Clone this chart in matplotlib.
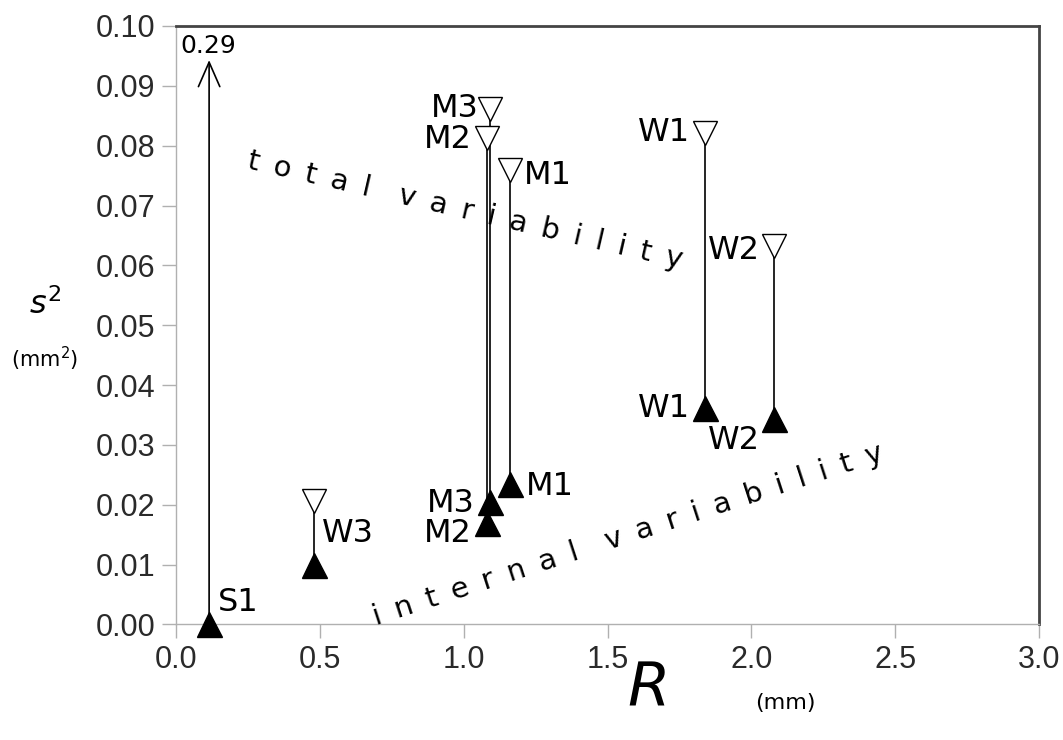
import matplotlib.pyplot as plt

# sample names, radius R (mm) and variances s^2 (mm^2)
names = ["S1", "W3", "M2", "M3", "M1", "W1", "W2"]
R = [0.115, 0.48, 1.080, 1.092, 1.162, 1.840, 2.080]
s2_internal = [0.0, 0.0099, 0.0170, 0.0204, 0.0235, 0.0361, 0.0343]
s2_total = [0.29, 0.0206, 0.0813, 0.0862, 0.0760, 0.0822, 0.0632]

x_ticks = [0.0, 0.5, 1.0, 1.5, 2.0, 2.5, 3.0]
y_ticks = [0.00, 0.01, 0.02, 0.03, 0.04, 0.05, 0.06, 0.07, 0.08, 0.09, 0.10]

# label offsets (points) and alignment for filled / open markers
off_int = {
    "S1": (6, 16, "left"), "M2": (-11, -8, "right"),
    "M3": (-11, -1, "right"), "M1": (11, -2, "left"), "W1": (-11, 0, "right"),
    "W2": (-10, -15, "right"),
}
off_tot = {
    "M2": (-11, -1, "right"), "M3": (-8, 0, "right"),
    "M1": (10, -4, "left"), "W1": (-11, 0, "right"), "W2": (-10, -3, "right"),
}


def spaced(s):
    # wide letter spacing, as in the original annotations
    sp = "\u2002"
    return sp.join(s).replace(sp + " " + sp, sp * 2)


fig = plt.figure(figsize=(10.63, 7.40), dpi=100)
ax = fig.add_axes([0.1656, 0.1561, 0.8118, 0.8088])

ymax = 0.10
for i, n in enumerate(names):
    if s2_total[i] > ymax:
        # off-scale value: arrow to the top with the value written above
        ax.annotate("", xy=(R[i], 0.0943), xytext=(R[i], s2_internal[i]),
                    arrowprops=dict(arrowstyle="->,head_length=0.8,head_width=0.35",
                                    lw=1.2, color="black", mutation_scale=22,
                                    shrinkA=0, shrinkB=0))
        ax.text(R[i] - 0.10, 0.0967, f"{s2_total[i]:.2f}", ha="left",
                va="center", fontsize=18, family="DejaVu Sans")
    else:
        ax.plot([R[i], R[i]], [s2_internal[i], s2_total[i]], color="black",
                lw=1.2, zorder=2)
        ax.plot(R[i], s2_total[i], marker="v", ms=17, mfc="white",
                mec="black", mew=1.0, ls="none", zorder=3)
    ax.plot(R[i], s2_internal[i], marker="^", ms=18, color="black",
            ls="none", zorder=4, clip_on=False)

for i, n in enumerate(names):
    if n in off_int:
        dx, dy, ha = off_int[n]
        ax.annotate(n, (R[i], s2_internal[i]), xytext=(dx, dy),
                    textcoords="offset points", ha=ha, va="center",
                    fontsize=23, family="DejaVu Sans")
    if n in off_tot:
        dx, dy, ha = off_tot[n]
        ax.annotate(n, (R[i], s2_total[i]), xytext=(dx, dy),
                    textcoords="offset points", ha=ha, va="center",
                    fontsize=23, family="DejaVu Sans")
# W3 name sits between its two markers
ax.annotate("W3", (R[1], (s2_internal[1] + s2_total[1]) / 2),
            xytext=(6, 0), textcoords="offset points", ha="left",
            va="center", fontsize=23, family="DejaVu Sans")

ax.text(1.006, 0.0691, spaced("total variability"), rotation=-13,
        ha="center", va="center", fontsize=21, family="DejaVu Sans",
        rotation_mode="anchor")
ax.text(1.573, 0.0149, spaced("internal variability"), rotation=18,
        ha="center", va="center", fontsize=21, family="DejaVu Sans",
        rotation_mode="anchor")

ax.set_xlim(0, 3.0)
ax.set_ylim(0, ymax)
ax.set_xticks(x_ticks)
ax.set_xticklabels([f"{v:.1f}" for v in x_ticks])
ax.set_yticks(y_ticks)
ax.set_yticklabels([f"{v:.2f}" for v in y_ticks])
ax.tick_params(direction="out", length=10, width=1, color="#b0b0b0",
               labelsize=22, labelcolor="#2a2a2a", pad=5)
for lab in ax.get_xticklabels() + ax.get_yticklabels():
    lab.set_family("Liberation Sans")
for side in ["left", "bottom"]:
    ax.spines[side].set_color("#b0b0b0")
    ax.spines[side].set_linewidth(1.0)
for side in ["top", "right"]:
    ax.spines[side].set_color("#444444")
    ax.spines[side].set_linewidth(2.0)

fig.text(0.610, 0.068, "R", fontsize=44, style="italic", ha="center",
         va="center", family="DejaVu Sans")
fig.text(0.739, 0.050, "(mm)", fontsize=16, ha="center", va="center",
         family="DejaVu Sans")
fig.text(0.042, 0.588, "$s^2$", fontsize=23, ha="center", va="center")
fig.text(0.042, 0.515, "(mm$^2$)", fontsize=15, ha="center", va="center",
         family="DejaVu Sans")

fig.savefig("out.png", dpi=100)
